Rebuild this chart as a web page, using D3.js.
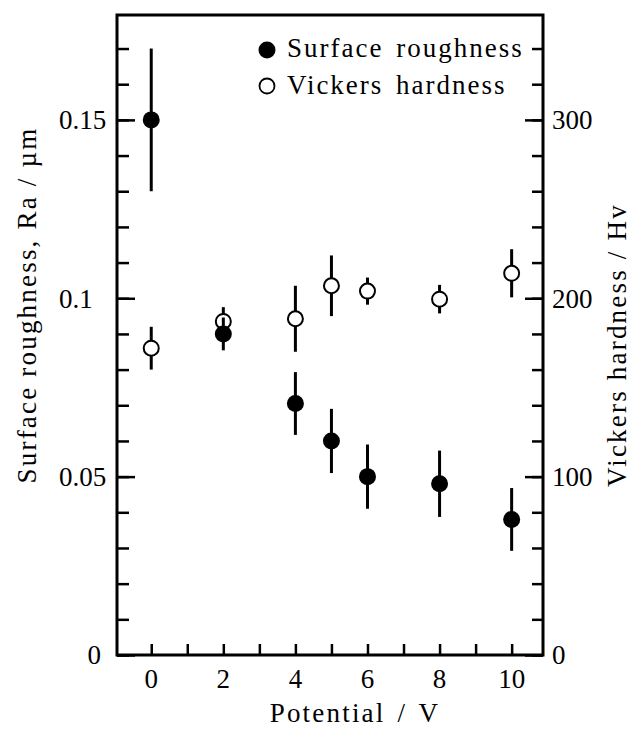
<!DOCTYPE html>
<html>
<head>
<meta charset="utf-8">
<script src="https://cdn.jsdelivr.net/npm/d3@7"></script>
<style>
  html, body { margin: 0; padding: 0; background: #fff; }
  svg { display: block; }
</style>
</head>
<body>
<svg id="chart" width="634" height="729"></svg>
<script>
// Applied potential (V)
const potential = [0, 2, 4, 5, 6, 8, 10];
// Surface roughness Ra (µm) and its spread
const roughness = [0.150, 0.090, 0.0705, 0.060, 0.050, 0.048, 0.038];
const roughnessErr = [0.020, 0.0046, 0.0088, 0.009, 0.009, 0.0093, 0.0088];
// Vickers hardness (Hv) and its spread
const hardness = [172, 187, 188.5, 207, 204, 199.5, 214];
const hardnessErr = [12, 8, 18.5, 17, 7.6, 8, 13.5];

// Axis ticks and labels
const xTicks = [0, 1, 2, 3, 4, 5, 6, 7, 8, 9, 10];
const xTickLabels = ["0", "2", "4", "6", "8", "10"];
const xLabelValues = [0, 2, 4, 6, 8, 10];
const leftMinorTicks = d3.range(0, 18).map(i => i / 100);
const leftMajorTicks = [0, 0.05, 0.1, 0.15];
const leftTickLabels = ["0", "0.05", "0.1", "0.15"];
const rightMinorTicks = d3.range(0, 18).map(i => i * 20);
const rightMajorTicks = [0, 100, 200, 300];
const rightTickLabels = ["0", "100", "200", "300"];

const legendLabels = ["Surface roughness", "Vickers hardness"];
const xTitle = "Potential / V";
const leftTitle = "Surface roughness, Ra / µm";
const rightTitle = "Vickers hardness / Hv";

const FONT = "'Liberation Serif', 'Times New Roman', Times, 'DejaVu Serif', serif";

const plot = { left: 117, right: 543, top: 15, bottom: 655 };

const x = d3.scaleLinear().domain([-0.95, 10.87]).range([plot.left, plot.right]);
const yL = d3.scaleLinear().domain([0, 0.1794]).range([plot.bottom, plot.top]);
const yR = d3.scaleLinear().domain([0, 358.8]).range([plot.bottom, plot.top]);

const svg = d3.select("#chart")
  .attr("font-family", FONT);

function styleAxis(g) {
  g.attr("font-family", FONT);
  g.select(".domain").remove();
  g.selectAll(".tick line").attr("stroke", "#000").attr("stroke-width", 2.5);
}

function label(sel) {
  return sel.attr("font-family", FONT).attr("fill", "#000");
}

// Bottom axis: inward ticks every 1 V
svg.append("g")
  .attr("transform", `translate(0,${plot.bottom})`)
  .call(d3.axisTop(x).tickValues(xTicks).tickSize(11).tickFormat(""))
  .call(styleAxis);

// Bottom tick labels
svg.append("g").selectAll("text")
  .data(xLabelValues)
  .join("text")
  .call(label)
  .attr("x", d => x(d))
  .attr("y", 688)
  .attr("text-anchor", "middle")
  .attr("font-size", 27)
  .text((d, i) => xTickLabels[i]);

// Left axis: minor and major inward ticks
svg.append("g")
  .attr("transform", `translate(${plot.left},0)`)
  .call(d3.axisRight(yL).tickValues(leftMinorTicks).tickSize(12).tickFormat(""))
  .call(styleAxis);
svg.append("g")
  .attr("transform", `translate(${plot.left},0)`)
  .call(d3.axisRight(yL).tickValues(leftMajorTicks).tickSize(18).tickFormat(""))
  .call(styleAxis);

svg.append("g").selectAll("text")
  .data(leftMajorTicks)
  .join("text")
  .call(label)
  .attr("x", d => d === 0 ? 101 : 59)
  .attr("y", d => yL(d))
  .attr("dy", "0.35em")
  .attr("text-anchor", d => d === 0 ? "end" : "start")
  .attr("font-size", 27)
  .text((d, i) => leftTickLabels[i]);

// Right axis: minor and major inward ticks
svg.append("g")
  .attr("transform", `translate(${plot.right},0)`)
  .call(d3.axisLeft(yR).tickValues(rightMinorTicks).tickSize(11).tickFormat(""))
  .call(styleAxis);
svg.append("g")
  .attr("transform", `translate(${plot.right},0)`)
  .call(d3.axisLeft(yR).tickValues(rightMajorTicks).tickSize(18).tickFormat(""))
  .call(styleAxis);

svg.append("g").selectAll("text")
  .data(rightMajorTicks)
  .join("text")
  .call(label)
  .attr("x", 552)
  .attr("y", d => yR(d))
  .attr("dy", "0.35em")
  .attr("text-anchor", "start")
  .attr("font-size", 27)
  .text((d, i) => rightTickLabels[i]);

// Frame
svg.append("rect")
  .attr("x", plot.left).attr("y", plot.top)
  .attr("width", plot.right - plot.left)
  .attr("height", plot.bottom - plot.top)
  .attr("fill", "none")
  .attr("stroke", "#000")
  .attr("stroke-width", 3);

// Hardness series (open circles, right axis)
const hData = potential.map((p, i) => ({ p, v: hardness[i], e: hardnessErr[i] }));
const hG = svg.append("g");
hG.selectAll("line")
  .data(hData)
  .join("line")
  .attr("x1", d => x(d.p)).attr("x2", d => x(d.p))
  .attr("y1", d => yR(d.v - d.e)).attr("y2", d => yR(d.v + d.e))
  .attr("stroke", "#000").attr("stroke-width", 3);
hG.selectAll("circle")
  .data(hData)
  .join("circle")
  .attr("cx", d => x(d.p)).attr("cy", d => yR(d.v))
  .attr("r", 7.5)
  .attr("fill", "#fff").attr("stroke", "#000").attr("stroke-width", 2);

// Roughness series (filled circles, left axis)
const rData = potential.map((p, i) => ({ p, v: roughness[i], e: roughnessErr[i] }));
const rG = svg.append("g");
rG.selectAll("line")
  .data(rData)
  .join("line")
  .attr("x1", d => x(d.p)).attr("x2", d => x(d.p))
  .attr("y1", d => yL(d.v - d.e)).attr("y2", d => yL(d.v + d.e))
  .attr("stroke", "#000").attr("stroke-width", 3);
rG.selectAll("circle")
  .data(rData)
  .join("circle")
  .attr("cx", d => x(d.p)).attr("cy", d => yL(d.v))
  .attr("r", 8.5)
  .attr("fill", "#000");

// Legend
const legend = svg.append("g");
legend.append("circle").attr("cx", 267).attr("cy", 50).attr("r", 8.5).attr("fill", "#000");
legend.append("circle").attr("cx", 267).attr("cy", 86).attr("r", 7.5)
  .attr("fill", "#fff").attr("stroke", "#000").attr("stroke-width", 1.8);
legend.selectAll("text")
  .data(legendLabels)
  .join("text")
  .call(label)
  .attr("x", 287)
  .attr("y", (d, i) => i === 0 ? 57 : 94)
  .attr("font-size", 27)
  .attr("letter-spacing", 2)
  .attr("word-spacing", 4)
  .text(d => d);

// Axis titles
svg.append("text")
  .call(label)
  .attr("x", 355).attr("y", 722)
  .attr("text-anchor", "middle")
  .attr("font-size", 27)
  .attr("letter-spacing", 2.2)
  .attr("word-spacing", 3)
  .text(xTitle);

svg.append("text")
  .call(label)
  .attr("transform", "translate(36,305) rotate(-90)")
  .attr("text-anchor", "middle")
  .attr("font-size", 27)
  .attr("letter-spacing", 2.2)
  .text(leftTitle);

svg.append("text")
  .call(label)
  .attr("transform", "translate(626,345) rotate(-90)")
  .attr("text-anchor", "middle")
  .attr("font-size", 27)
  .attr("letter-spacing", 2.2)
  .text(rightTitle);
</script>
</body>
</html>
